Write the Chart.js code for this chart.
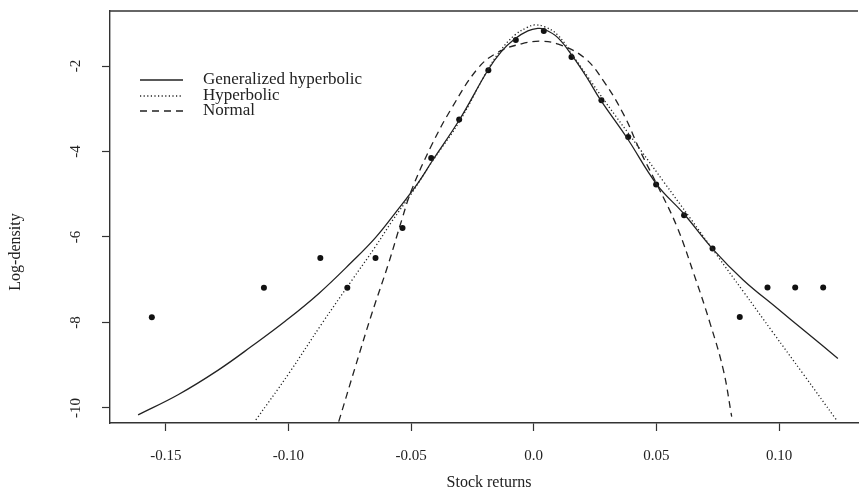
<!DOCTYPE html>
<html>
<head>
<meta charset="utf-8">
<script src="https://cdn.jsdelivr.net/npm/chart.js@4.4.1/dist/chart.umd.min.js"></script>
<style>
  html, body { margin: 0; padding: 0; background: #fff; }
</style>
</head>
<body>
<canvas id="grafico" width="862" height="501"></canvas>
<script>
// Dados
const xTicks = [-0.15, -0.10, -0.05, 0.0, 0.05, 0.10]
const xTickLabels = ["-0.15", "-0.10", "-0.05", "0.0", "0.05", "0.10"]
const yTicks = [-10, -8, -6, -4, -2]
const yTickLabels = ["-10", "-8", "-6", "-4", "-2"]

// Histograma (log-densidade empírica)
const pontosX = [-0.1557, -0.1100, -0.0870, -0.0760, -0.0645, -0.0535, -0.0418, -0.0304, -0.0185, -0.0073,
  0.0041, 0.0154, 0.0276, 0.0385, 0.0499, 0.0613, 0.0729, 0.0840, 0.0953, 0.1066, 0.1180]
const pontosY = [-7.88, -7.19, -6.49, -7.19, -6.49, -5.79, -4.15, -3.25, -2.10, -1.39,
  -1.18, -1.79, -2.80, -3.66, -4.77, -5.49, -6.27, -7.87, -7.18, -7.18, -7.18]

// Generalized hyperbolic (linha cheia)
const ghX = [-0.1613, -0.1450, -0.1288, -0.1146, -0.1011, -0.0876, -0.0741, -0.0646, -0.0565, -0.0470,
  -0.0416, -0.0301, -0.0187, -0.0133, -0.0078, -0.0024, 0.0016, 0.0043, 0.0097, 0.0158,
  0.0219, 0.0273, 0.0381, 0.0503, 0.0611, 0.0733, 0.0855, 0.0989, 0.1111, 0.1240]
const ghY = [-10.16, -9.69, -9.12, -8.54, -7.96, -7.32, -6.58, -6.02, -5.44, -4.72,
  -4.24, -3.24, -2.10, -1.67, -1.37, -1.18, -1.12, -1.14, -1.33, -1.77,
  -2.29, -2.80, -3.69, -4.78, -5.45, -6.30, -7.01, -7.65, -8.23, -8.84]

// Hyperbolic (pontilhada)
const hypX = [-0.1133, -0.0998, -0.0863, -0.0741, -0.0646, -0.0579, -0.0498, -0.0416, -0.0301, -0.0187,
  -0.0133, -0.0078, -0.0024, 0.0003, 0.0043, 0.0097, 0.0158, 0.0219, 0.0287, 0.0435,
  0.0530, 0.0638, 0.0746, 0.0855, 0.0976, 0.1098, 0.1233]
const hypY = [-10.28, -9.19, -8.02, -7.01, -6.23, -5.64, -4.98, -4.25, -3.28, -2.08,
  -1.62, -1.28, -1.09, -1.04, -1.08, -1.27, -1.74, -2.24, -2.80, -3.96,
  -4.71, -5.56, -6.42, -7.28, -8.24, -9.20, -10.27]

// Normal (tracejada)
const normX = [-0.0795, -0.0727, -0.0660, -0.0592, -0.0538, -0.0498, -0.0416, -0.0335, -0.0227, -0.0146,
  -0.0050, 0.0030, 0.0100, 0.0205, 0.0287, 0.0368, 0.0435, 0.0510, 0.0584, 0.0652,
  0.0719, 0.0773, 0.0807]
const normY = [-10.32, -9.03, -7.79, -6.62, -5.60, -4.90, -3.85, -2.99, -2.05, -1.68,
  -1.48, -1.42, -1.49, -1.80, -2.37, -3.15, -4.00, -4.86, -5.76, -6.85,
  -8.02, -9.11, -10.20]

const fonte = "Liberation Serif"
const corTinta = "#222"

const pares = (xs, ys) => xs.map((x, i) => ({ x, y: ys[i] }))

function curva(label, xs, ys, dash) {
  return {
    label,
    data: pares(xs, ys),
    showLine: true,
    borderColor: corTinta,
    borderWidth: 1.3,
    borderDash: dash,
    pointRadius: 0,
    tension: 0.4,
    fill: false
  }
}

// Legenda, moldura de cima e títulos desenhados à mão, no estilo do R
const extras = {
  id: "extras",
  afterDraw(chart) {
    const ctx = chart.ctx
    const area = chart.chartArea
    ctx.save()
    ctx.fillStyle = corTinta
    ctx.strokeStyle = "#333"
    ctx.lineWidth = 1.4
    ctx.beginPath()
    ctx.moveTo(area.left, area.top)
    ctx.lineTo(area.right, area.top)
    ctx.stroke()

    ctx.strokeStyle = corTinta
    const linhas = [80, 96, 111]
    chart.data.datasets.slice(0, 3).forEach((ds, i) => {
      ctx.lineWidth = ds.borderWidth
      ctx.setLineDash(ds.borderDash || [])
      ctx.beginPath()
      ctx.moveTo(140, linhas[i])
      ctx.lineTo(183, linhas[i])
      ctx.stroke()
      ctx.setLineDash([])
      ctx.font = "17px " + fonte
      ctx.textBaseline = "middle"
      ctx.textAlign = "left"
      ctx.fillText(ds.label, 203, linhas[i])
    })
    ctx.font = "16px " + fonte
    ctx.textAlign = "center"
    ctx.textBaseline = "middle"
    ctx.fillText("Stock returns", 489, 483)
    ctx.translate(16, 252)
    ctx.rotate(-Math.PI / 2)
    ctx.fillText("Log-density", 0, 0)
    ctx.restore()
  }
}

new Chart(document.getElementById("grafico").getContext("2d"), {
  type: "scatter",
  data: {
    datasets: [
      curva("Generalized hyperbolic", ghX, ghY, []),
      curva("Hyperbolic", hypX, hypY, [1.2, 2.4]),
      curva("Normal", normX, normY, [7, 5]),
      {
        label: "Dados",
        data: pares(pontosX, pontosY),
        showLine: false,
        pointRadius: 3,
        pointBackgroundColor: "#111",
        pointBorderColor: "#111",
        pointBorderWidth: 0
      }
    ]
  },
  options: {
    responsive: false,
    animation: false,
    layout: { padding: { top: 11, right: 0, bottom: 0, left: 0 } },
    plugins: { legend: { display: false }, tooltip: { enabled: false } },
    scales: {
      x: {
        type: "linear",
        position: "bottom",
        min: -0.17275,
        max: 0.1322,
        afterBuildTicks: s => { s.ticks = xTicks.map(v => ({ value: v })) },
        afterFit: s => { s.height = 78; s.paddingLeft = 0; s.paddingRight = 0 },
        ticks: {
          callback: v => xTickLabels[xTicks.indexOf(v)],
          font: { family: fonte, size: 15 },
          color: corTinta,
          padding: 16,
          maxRotation: 0
        },
        grid: { drawOnChartArea: false, tickLength: 8, color: "#333", tickWidth: 1.2 },
        border: { display: true, color: "#333", width: 1.4 }
      },
      y: {
        type: "linear",
        position: "left",
        min: -10.351,
        max: -0.7134,
        afterBuildTicks: s => { s.ticks = yTicks.map(v => ({ value: v })) },
        afterFit: s => { s.width = 110; s.paddingTop = 0; s.paddingBottom = 0 },
        ticks: {
          callback: v => yTickLabels[yTicks.indexOf(v)],
          font: { family: fonte, size: 15 },
          color: corTinta,
          minRotation: 90,
          maxRotation: 90,
          crossAlign: "center",
          padding: 16
        },
        grid: { drawOnChartArea: false, tickLength: 8, color: "#333", tickWidth: 1.2 },
        border: { display: true, color: "#333", width: 1.4 }
      }
    }
  },
  plugins: [extras]
})
</script>
</body>
</html>
